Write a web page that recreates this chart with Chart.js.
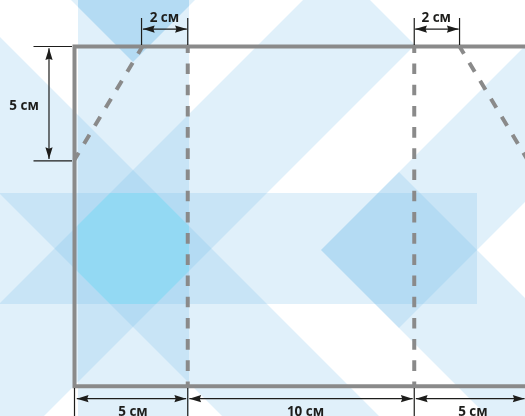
<!DOCTYPE html>
<html>
<head>
<meta charset="utf-8">
<style>
  html, body { margin: 0; padding: 0; background: #fff; }
  #wrap { width: 525px; height: 416px; }
</style>
<script src="https://cdn.jsdelivr.net/npm/chart.js@4"></script>
</head>
<body>
<div id="wrap"><canvas id="myChart"></canvas></div>
<script>
// background pattern, in picture units
const stripV = [[78, -5], [189, -5], [189, 421], [78, 421]];
const stripH = [[-5, 193], [477, 193], [477, 304], [-5, 304]];
const bandLeftUp = [[336.5, -33.5], [415, 45], [-70, 530], [-148.5, 451.5]];
const bandLeftDown = [[-68.5, -31.5], [431.5, 468.5], [353, 547], [-147, 47]];
const bandRightUp = [[321, 250], [399, 328], [663.5, 63.5], [585.5, -14.5]];
const bandRightDown = [[321, 250], [399, 172], [713.5, 486.5], [635.5, 564.5]];
const topCorner = [[133, 62], [247.5, -52.5], [100, -200], [-14.5, -85.5]];
const topCore = [[78, 7], [133, 62], [189, 6], [189, -5], [78, -5]];
const centreCore = [[110, 193], [156, 193], [189, 226], [189, 271], [156, 304], [110, 304], [78, 272], [78, 225]];

// the template itself, in centimetres
const frameLine = [[20, 0], [0, 0], [0, 15], [20, 15]];
const foldLeft = [[5, 0], [5, 15]];
const foldRight = [[15, 0], [15, 15]];
const flapLeft = [[3, 0], [0, 5]];
const flapRight = [[17, 0], [20, 5]];

// thin extension lines
const extLines = [
  [[2.96, -1.26], [2.96, -0.07]],
  [[5, -1.26], [5, -0.07]],
  [[15, -1.26], [15, -0.07]],
  [[17, -1.26], [17, -0.07]],
  [[-1.81, 0], [-0.11, 0]],
  [[-1.81, 5.05], [-0.11, 5.05]],
  [[0, 15.08], [0, 16.4]],
  [[5, 15.08], [5, 16.4]],
  [[15, 15.08], [15, 16.4]]
];

// dimension arrows, both ends get a head
const arrows = [
  [[3.02, -0.77], [4.96, -0.77]],
  [[15.04, -0.77], [16.96, -0.77]],
  [[-1.126, 0.08], [-1.126, 4.97]],
  [[0.1, 15.55], [4.93, 15.55]],
  [[5.07, 15.55], [14.93, 15.55]],
  [[15.07, 15.55], [19.87, 15.55]]
];

const labelText = ["2 см", "2 см", "5 см", "5 см", "10 см", "5 см"];
const labelX = [3.97, 15.97, -2.23, 2.58, 10.2, 17.59];
const labelY = [-1.08, -1.08, 2.8, 16.31, 16.31, 16.31];

const PX_PER_CM = 22.65;
const GREY = "#8a8a8a";
const INK = "#1d1d1b";
const TINT = "rgba(100, 182, 228, 0.2)";

function pts(list) {
  return list.map((p) => ({ x: p[0], y: p[1] }));
}

function shape(list, color) {
  const data = pts(list);
  data.push(data[0]);
  return {
    data: data,
    xAxisID: "xBg",
    yAxisID: "yBg",
    showLine: true,
    fill: "shape",
    backgroundColor: color,
    borderWidth: 0,
    pointRadius: 0,
  };
}

function line(list, width, color, dash, offset) {
  return {
    data: pts(list),
    xAxisID: "x",
    yAxisID: "y",
    showLine: true,
    fill: false,
    borderColor: color,
    borderWidth: width,
    borderDash: dash || [],
    borderDashOffset: offset || 0,
    borderJoinStyle: "miter",
    pointRadius: 0,
  };
}

// arrow head as a small notched polygon, tip at a, pointing away from b
function head(a, b) {
  const dx = a[0] - b[0];
  const dy = a[1] - b[1];
  const len = Math.hypot(dx, dy);
  const ux = dx / len;
  const uy = dy / len;
  const back = 0.52;
  const notch = 0.46;
  const half = 0.16;
  const poly = [
    a,
    [a[0] - ux * back - uy * half, a[1] - uy * back + ux * half],
    [a[0] - ux * notch, a[1] - uy * notch],
    [a[0] - ux * back + uy * half, a[1] - uy * back - ux * half],
    a,
  ];
  return {
    data: pts(poly),
    xAxisID: "x",
    yAxisID: "y",
    showLine: true,
    fill: "shape",
    backgroundColor: INK,
    borderWidth: 0,
    pointRadius: 0,
  };
}

// first dataset ends up on top
const datasets = [];
arrows.forEach((a) => {
  datasets.push(head(a[0], a[1]));
  datasets.push(head(a[1], a[0]));
  datasets.push(line(a, 1.2, INK));
});
extLines.forEach((e) => datasets.push(line(e, 1.2, INK)));
datasets.push(line(frameLine, 4, GREY));
datasets.push(line(foldLeft, 4, GREY, [10.6, 10.6], 4.2));
datasets.push(line(foldRight, 4, GREY, [10.6, 10.6], 4.2));
datasets.push(line(flapLeft, 4, GREY, [10.5, 10.5], 2));
datasets.push(line(flapRight, 4, GREY, [10.5, 10.5], 2));
datasets.push(shape(centreCore, "rgba(80, 240, 255, 0.2)"));
datasets.push(shape(topCore, TINT));
datasets.push(shape(topCorner, TINT));
datasets.push(shape(bandRightDown, TINT));
datasets.push(shape(bandRightUp, TINT));
datasets.push(shape(bandLeftDown, TINT));
datasets.push(shape(bandLeftUp, TINT));
datasets.push(shape(stripH, TINT));
datasets.push(shape(stripV, TINT));

const sizeLabels = {
  id: "sizeLabels",
  afterDatasetsDraw(chart) {
    const ctx = chart.ctx;
    ctx.save();
    ctx.font = 'bold 13.5px "Open Sans"';
    ctx.fillStyle = INK;
    ctx.textAlign = "center";
    ctx.textBaseline = "alphabetic";
    labelText.forEach((t, i) => {
      ctx.fillText(t, chart.scales.x.getPixelForValue(labelX[i]), chart.scales.y.getPixelForValue(labelY[i]));
    });
    ctx.restore();
  },
};

const ctx = document.getElementById("myChart").getContext("2d");
const myChart = new Chart(ctx, {
  type: "scatter",
  data: { datasets: datasets },
  plugins: [sizeLabels],
  options: {
    responsive: true,
    maintainAspectRatio: false,
    animation: false,
    events: [],
    layout: { padding: 0 },
    plugins: { legend: { display: false }, tooltip: { enabled: false } },
    scales: {
      x: { type: "linear", display: false, min: -74.5 / PX_PER_CM, max: (525 - 74.5) / PX_PER_CM },
      y: { type: "linear", display: false, reverse: true, min: -46.5 / PX_PER_CM, max: (416 - 46.5) / PX_PER_CM },
      xBg: { type: "linear", display: false, min: 0, max: 525 },
      yBg: { type: "linear", display: false, reverse: true, min: 0, max: 416 },
    },
  },
});
</script>
</body>
</html>
